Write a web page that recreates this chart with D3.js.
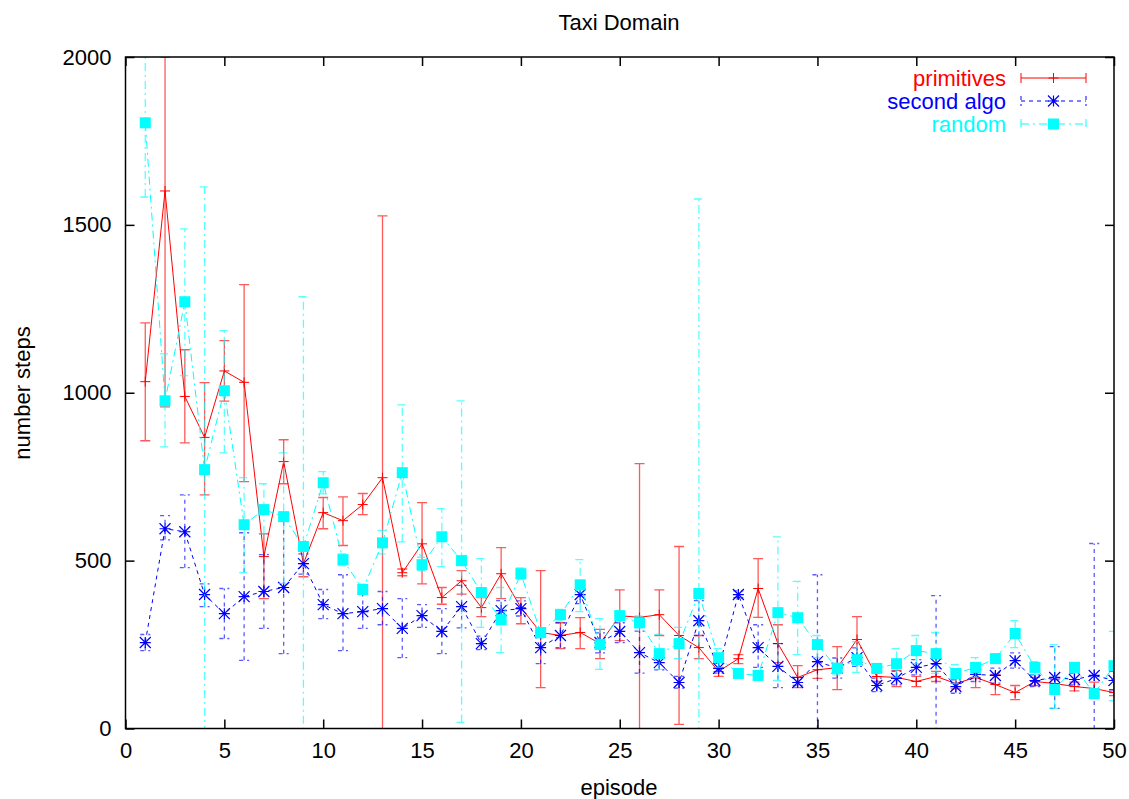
<!DOCTYPE html>
<html>
<head>
<meta charset="utf-8">
<script src="https://cdn.jsdelivr.net/npm/d3@7"></script>
<style>
  html, body { margin: 0; padding: 0; background: #fff; }
  svg { display: block; }
  text { font-family: "Liberation Sans", Arial, Helvetica, sans-serif; }
</style>
</head>
<body>
<svg id="chart" width="1129" height="799"></svg>
<script>
// ---- data ----
const episodes = d3.range(1, 51);
const xTicks = [0, 5, 10, 15, 20, 25, 30, 35, 40, 45, 50];
const yTicks = [0, 500, 1000, 1500, 2000];

const primitivesMean = [1033, 1601, 989, 867, 1065, 1031, 512, 795, 491, 643,
  619, 667, 747, 464, 550, 390, 440, 360, 461, 360,
  286, 277, 286, 253, 336, 331, 339, 277, 241, 170,
  208, 417, 253, 152, 175, 181, 265, 155, 152, 140,
  155, 134, 152, 131, 107, 140, 134, 125, 119, 107];
const primitivesLow = [857, 958, 851, 696, 975, 735, 387, 729, 452, 595,
  545, 637, -30, 455, 431, 370, 400, 333, 387, 312,
  122, 238, 238, 208, 262, -120, 277, 12, 208, 155,
  193, 331, 196, 122, 149, 116, 202, 140, 125, 125,
  140, 118, 122, 101, 86, 128, 122, 112, 98, 98];
const primitivesHigh = [1208, 2000, 1128, 1030, 1155, 1322, 580, 860, 530, 688,
  690, 700, 1527, 475, 673, 420, 470, 390, 539, 390,
  470, 315, 330, 295, 413, 789, 413, 542, 277, 182,
  220, 506, 309, 187, 199, 244, 333, 168, 173, 155,
  170, 150, 167, 161, 128, 152, 146, 138, 138, 116];

const secondMean = [256, 595, 586, 399, 342, 393, 408, 420, 491, 369,
  342, 348, 357, 298, 336, 289, 363, 253, 351, 357,
  241, 277, 399, 256, 289, 226, 196, 137, 321, 179,
  399, 241, 185, 137, 199, 180, 211, 128, 149, 182,
  193, 125, 161, 158, 202, 143, 152, 146, 158, 143];
const secondLow = [232, 562, 479, 363, 268, 203, 298, 223, 460, 327,
  232, 298, 309, 211, 301, 223, 300, 235, 318, 335,
  193, 241, 372, 225, 256, 165, 175, 120, 277, 165,
  390, 182, 122, 128, -50, 150, 185, 110, 130, 160,
  -10, 105, 140, 135, 180, 125, 60, 130, -240, 115];
const secondHigh = [280, 634, 696, 431, 417, 583, 518, 617, 520, 414,
  458, 400, 408, 387, 369, 357, 426, 275, 381, 380,
  283, 315, 426, 285, 315, 290, 220, 155, 381, 195,
  410, 309, 253, 152, 458, 210, 240, 150, 170, 205,
  396, 145, 180, 180, 225, 160, 244, 165, 551, 170];

const randomMean = [1804, 976, 1271, 771, 1006, 607, 652, 631, 542, 732,
  503, 414, 553, 762, 488, 571, 500, 405, 324, 461,
  286, 339, 428, 250, 336, 315, 223, 253, 402, 211,
  164, 158, 345, 330, 250, 179, 205, 179, 193, 232,
  223, 164, 182, 208, 283, 182, 116, 182, 104, 187];
const randomLow = [1583, 839, 1051, -70, 821, 464, 580, 432, -200, 699,
  485, 400, 520, 556, 470, 482, 18, 301, 226, 445,
  270, 320, 348, 176, 320, 300, 176, 208, -770, 182,
  150, 145, 143, 220, 211, 160, 167, 165, 152, 193,
  164, 134, 152, 195, 241, 160, 60, 170, 92, 83];
const randomHigh = [2000, 1116, 1488, 1613, 1185, 747, 729, 821, 1286, 765,
  520, 430, 590, 964, 510, 655, 976, 506, 420, 478,
  300, 355, 503, 327, 350, 335, 280, 301, 1577, 238,
  178, 172, 571, 438, 277, 195, 259, 193, 238, 277,
  286, 190, 211, 222, 321, 199, 250, 195, 118, 289];

const seriesNames = ["primitives", "second algo", "random"];
const seriesColors = ["#ff0000", "#0000ff", "#00ffff"];

// ---- layout ----
const svg = d3.select("#chart");
const L = 125.5, R = 1114, T = 57, B = 728.5;
const x = d3.scaleLinear().domain([0, 50]).range([L, R]);
const y = d3.scaleLinear().domain([0, 2000]).range([B, T]);

svg.append("defs").append("clipPath").attr("id", "plotclip")
  .append("rect").attr("x", L).attr("y", T).attr("width", R - L).attr("height", B - T);

const series = [
  { name: seriesNames[0], color: seriesColors[0], mean: primitivesMean, low: primitivesLow, high: primitivesHigh, dash: null, marker: "plus" },
  { name: seriesNames[1], color: seriesColors[1], mean: secondMean, low: secondLow, high: secondHigh, dash: "4,4", marker: "star" },
  { name: seriesNames[2], color: seriesColors[2], mean: randomMean, low: randomLow, high: randomHigh, dash: "8,4,2,4", marker: "square" }
];

const plot = svg.append("g").attr("clip-path", "url(#plotclip)");
const capW = 5;

function drawMarker(g, kind, cx, cy, color) {
  if (kind === "plus") {
    g.append("path").attr("d", `M${cx - 5},${cy}H${cx + 5}M${cx},${cy - 5}V${cy + 5}`)
      .attr("stroke", color).attr("stroke-width", 1).attr("fill", "none");
  } else if (kind === "star") {
    const s = 5.5;
    g.append("path").attr("d",
      `M${cx - s},${cy}H${cx + s}M${cx},${cy - s}V${cy + s}M${cx - s},${cy - s}L${cx + s},${cy + s}M${cx - s},${cy + s}L${cx + s},${cy - s}`)
      .attr("stroke", color).attr("stroke-width", 1.2).attr("fill", "none");
  } else {
    g.append("rect").attr("x", cx - 5.5).attr("y", cy - 5.5).attr("width", 11).attr("height", 11)
      .attr("fill", color);
  }
}

series.forEach(s => {
  const g = plot.append("g");
  const pts = episodes.map((e, i) => ({ e, m: s.mean[i], lo: s.low[i], hi: s.high[i] }));
  pts.forEach(p => {
    const px = x(p.e);
    g.append("path")
      .attr("d", `M${px},${y(p.lo)}V${y(p.hi)}M${px - capW},${y(p.lo)}H${px + capW}M${px - capW},${y(p.hi)}H${px + capW}`)
      .attr("stroke", s.color).attr("stroke-width", 1.3).attr("stroke-opacity", 0.65)
      .attr("fill", "none").attr("stroke-dasharray", s.dash);
  });
  const line = d3.line().x(p => x(p.e)).y(p => y(p.m));
  g.append("path").datum(pts).attr("d", line)
    .attr("stroke", s.color).attr("stroke-width", 1).attr("fill", "none")
    .attr("stroke-dasharray", s.dash);
  pts.forEach(p => drawMarker(g, s.marker, x(p.e), y(p.m), s.color));
});

// ---- axes / frame ----
const axes = svg.append("g");
axes.append("rect").attr("x", L).attr("y", T).attr("width", R - L).attr("height", B - T)
  .attr("fill", "none").attr("stroke", "#000").attr("stroke-width", 1.5);

const tickLen = 9;
const fmt = d3.format("d");
const xAxisB = d3.axisBottom(x).tickValues(xTicks).tickFormat(fmt).tickSizeInner(-tickLen).tickSizeOuter(0).tickPadding(14);
const gxb = axes.append("g").attr("transform", `translate(0,${B})`).call(xAxisB);
const xAxisT = d3.axisTop(x).tickValues(xTicks).tickSizeInner(-tickLen).tickSizeOuter(0).tickFormat("");
const gxt = axes.append("g").attr("transform", `translate(0,${T})`).call(xAxisT);
const yAxisL = d3.axisLeft(y).tickValues(yTicks).tickFormat(fmt).tickSizeInner(-tickLen).tickSizeOuter(0).tickPadding(14);
const gyl = axes.append("g").attr("transform", `translate(${L},0)`).call(yAxisL);
const yAxisR = d3.axisRight(y).tickValues(yTicks).tickSizeInner(-tickLen).tickSizeOuter(0).tickFormat("");
const gyr = axes.append("g").attr("transform", `translate(${R},0)`).call(yAxisR);

[gxb, gxt, gyl, gyr].forEach(g => {
  g.select(".domain").remove();
  g.selectAll(".tick line").attr("stroke", "#000").attr("stroke-width", 1.5);
  g.selectAll(".tick text").attr("font-size", 22).attr("fill", "#000")
    .attr("font-family", "'Liberation Sans', Arial, sans-serif");
});

// ---- titles ----
svg.append("text").attr("x", 619).attr("y", 30).attr("text-anchor", "middle")
  .attr("font-size", 22).text("Taxi Domain");
svg.append("text").attr("x", 619).attr("y", 795).attr("text-anchor", "middle")
  .attr("font-size", 22).text("episode");
svg.append("text").attr("transform", "translate(30,393) rotate(-90)").attr("text-anchor", "middle")
  .attr("font-size", 22).text("number steps");

// ---- legend ----
const legend = svg.append("g");
const legY = [78, 101, 124];
series.forEach((s, i) => {
  const ly = legY[i];
  legend.append("text").attr("x", 1006).attr("y", ly + 8).attr("text-anchor", "end")
    .attr("font-size", 22).attr("fill", s.color).text(s.name);
  legend.append("path")
    .attr("d", `M1021,${ly}H1086M1021,${ly - 5}V${ly + 5}M1086,${ly - 5}V${ly + 5}`)
    .attr("stroke", s.color).attr("stroke-width", 1).attr("fill", "none")
    .attr("stroke-dasharray", s.dash);
  drawMarker(legend, s.marker, 1053.5, ly, s.color);
});
</script>
</body>
</html>
